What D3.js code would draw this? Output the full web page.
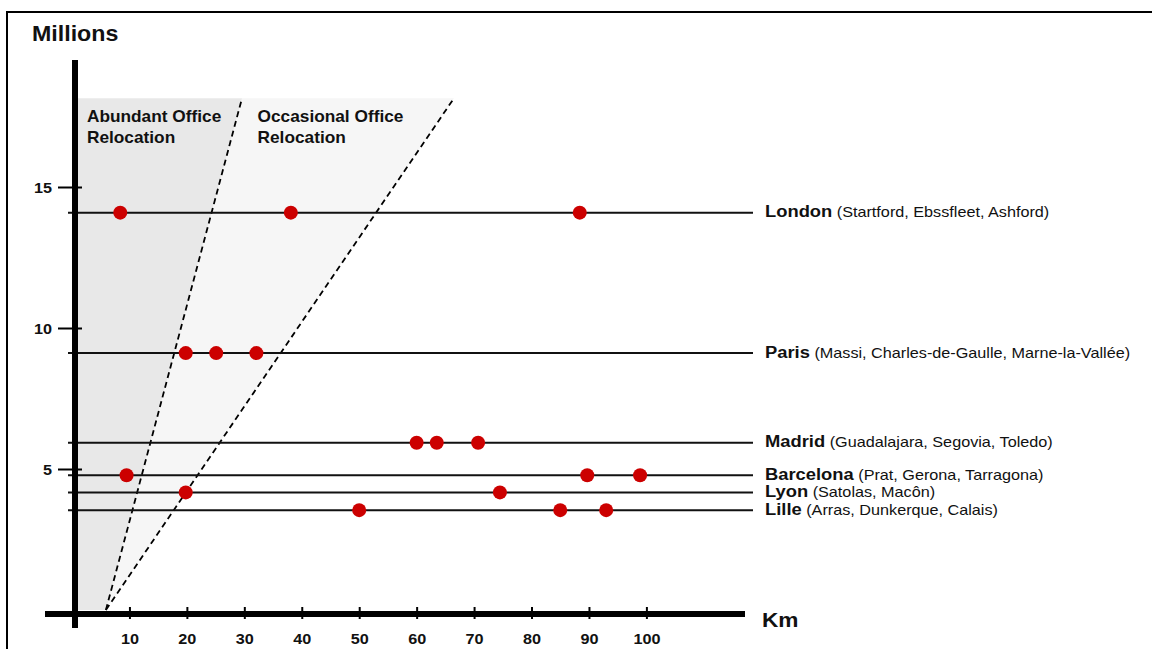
<!DOCTYPE html>
<html><head><meta charset="utf-8">
<script src="https://cdn.jsdelivr.net/npm/d3@7"></script>
<style>body{margin:0;background:#fff;} svg{display:block;} text{font-family:"Liberation Sans",Arial,sans-serif;}</style>
</head><body>
<script>
const cities = ["London","Paris","Madrid","Barcelona","Lyon","Lille"];
const satellites = ["(Startford, Ebssfleet, Ashford)","(Massi, Charles-de-Gaulle, Marne-la-Vallée)","(Guadalajara, Segovia, Toledo)","(Prat, Gerona, Tarragona)","(Satolas, Macôn)","(Arras, Dunkerque, Calais)"];
const population = [14.09, 9.11, 5.93, 4.78, 4.17, 3.54];
const distances = [[8.4,38.1,88.4],[19.8,25.1,32.1],[60.0,63.5,70.7],[9.5,89.7,98.9],[19.8,74.5],[50.0,85.0,93.0]];
const xTicks = [10,20,30,40,50,60,70,80,90,100];
const yTicks = [5,10,15];
const zoneOriginKm = 5.9, zoneTopM = 18.15;
const abundantTopKm = 29.6, occasionalTopKm = 66.5;
const zoneLabels = [["Abundant Office","Relocation"],["Occasional Office","Relocation"]];
const zoneLabelKm = [2.6, 32.3];

const W=1152,H=649, SX=1.08;
const svg=d3.select("body").append("svg").attr("width",W).attr("height",H);
const x=d3.scaleLinear().domain([0,100]).range([72,646.4]);
const y=d3.scaleLinear().domain([0,15]).range([610,187]);

// frame
svg.append("rect").attr("x",7).attr("y",12).attr("width",1300).attr("height",800).attr("fill","none").attr("stroke","#000").attr("stroke-width",2);

// zones
const poly=pts=>"M"+pts.map(p=>x(p[0])+","+y(p[1])).join("L")+"Z";
svg.append("path").attr("d",poly([[zoneOriginKm,0],[occasionalTopKm,zoneTopM],[abundantTopKm,zoneTopM]])).attr("fill","#f6f6f6");
svg.append("path").attr("d",poly([[0,0],[0,zoneTopM],[abundantTopKm,zoneTopM],[zoneOriginKm,0]])).attr("fill","#e8e8e8");
[abundantTopKm,occasionalTopKm].forEach(k=>{
  svg.append("line").attr("x1",x(zoneOriginKm)).attr("y1",y(0)).attr("x2",x(k)).attr("y2",y(zoneTopM))
    .attr("stroke","#000").attr("stroke-width",1.8).attr("stroke-dasharray","6,4");
});
zoneLabels.forEach((lines,i)=>{
  lines.forEach((t,j)=>{
    svg.append("text").attr("transform",`translate(${x(zoneLabelKm[i])},${122+j*21}) scale(${SX},1)`)
      .attr("font-size",16).attr("font-weight","bold").attr("fill","#111").text(t);
  });
});

// city lines
cities.forEach((c,i)=>{
  const yy=y(population[i]);
  svg.append("line").attr("x1",68).attr("x2",753).attr("y1",yy).attr("y2",yy).attr("stroke","#111").attr("stroke-width",2);
  distances[i].forEach(d=>{
    svg.append("circle").attr("cx",x(d)).attr("cy",yy).attr("r",7).attr("fill","#cc0000");
  });
  const t=svg.append("text").attr("transform",`translate(765,${yy+4.5}) scale(${SX},1)`).attr("fill","#111");
  t.append("tspan").attr("font-size",17).attr("font-weight","bold").text(c);
  t.append("tspan").attr("font-size",15).text(" "+satellites[i]);
});

// axes
const xa=svg.append("g").attr("transform","translate(0,614)").call(d3.axisBottom(x).tickValues(xTicks).tickSize(5));
xa.select(".domain").remove();
xa.selectAll(".tick line").attr("y1",-7).attr("y2",5).attr("stroke","#000").attr("stroke-width",2);
xa.selectAll(".tick text").attr("y",0).attr("dy",0).attr("transform",`translate(0,30) scale(${SX},1)`)
  .attr("font-size",15).attr("font-weight","bold").attr("fill","#111");
svg.append("line").attr("x1",45).attr("x2",745).attr("y1",614).attr("y2",614).attr("stroke","#000").attr("stroke-width",6);

const ya=svg.append("g").attr("transform","translate(75,0)").call(d3.axisLeft(y).tickValues(yTicks).tickSize(17));
ya.select(".domain").remove();
ya.selectAll(".tick line").attr("x1",7).attr("x2",-17).attr("stroke","#000").attr("stroke-width",2);
ya.selectAll(".tick text").attr("x",0).attr("dy",0).attr("transform",`translate(-23,5.5) scale(${SX},1)`)
  .attr("font-size",15).attr("font-weight","bold").attr("fill","#111");
svg.append("line").attr("x1",75).attr("x2",75).attr("y1",60).attr("y2",628).attr("stroke","#000").attr("stroke-width",6);

// titles
svg.append("text").attr("transform",`translate(32,41) scale(${SX},1)`).attr("font-size",21.5).attr("font-weight","bold").attr("fill","#111").text("Millions");
svg.append("text").attr("transform",`translate(762,627) scale(${SX},1)`).attr("font-size",21).attr("font-weight","bold").attr("fill","#111").text("Km");
</script>
</body></html>
